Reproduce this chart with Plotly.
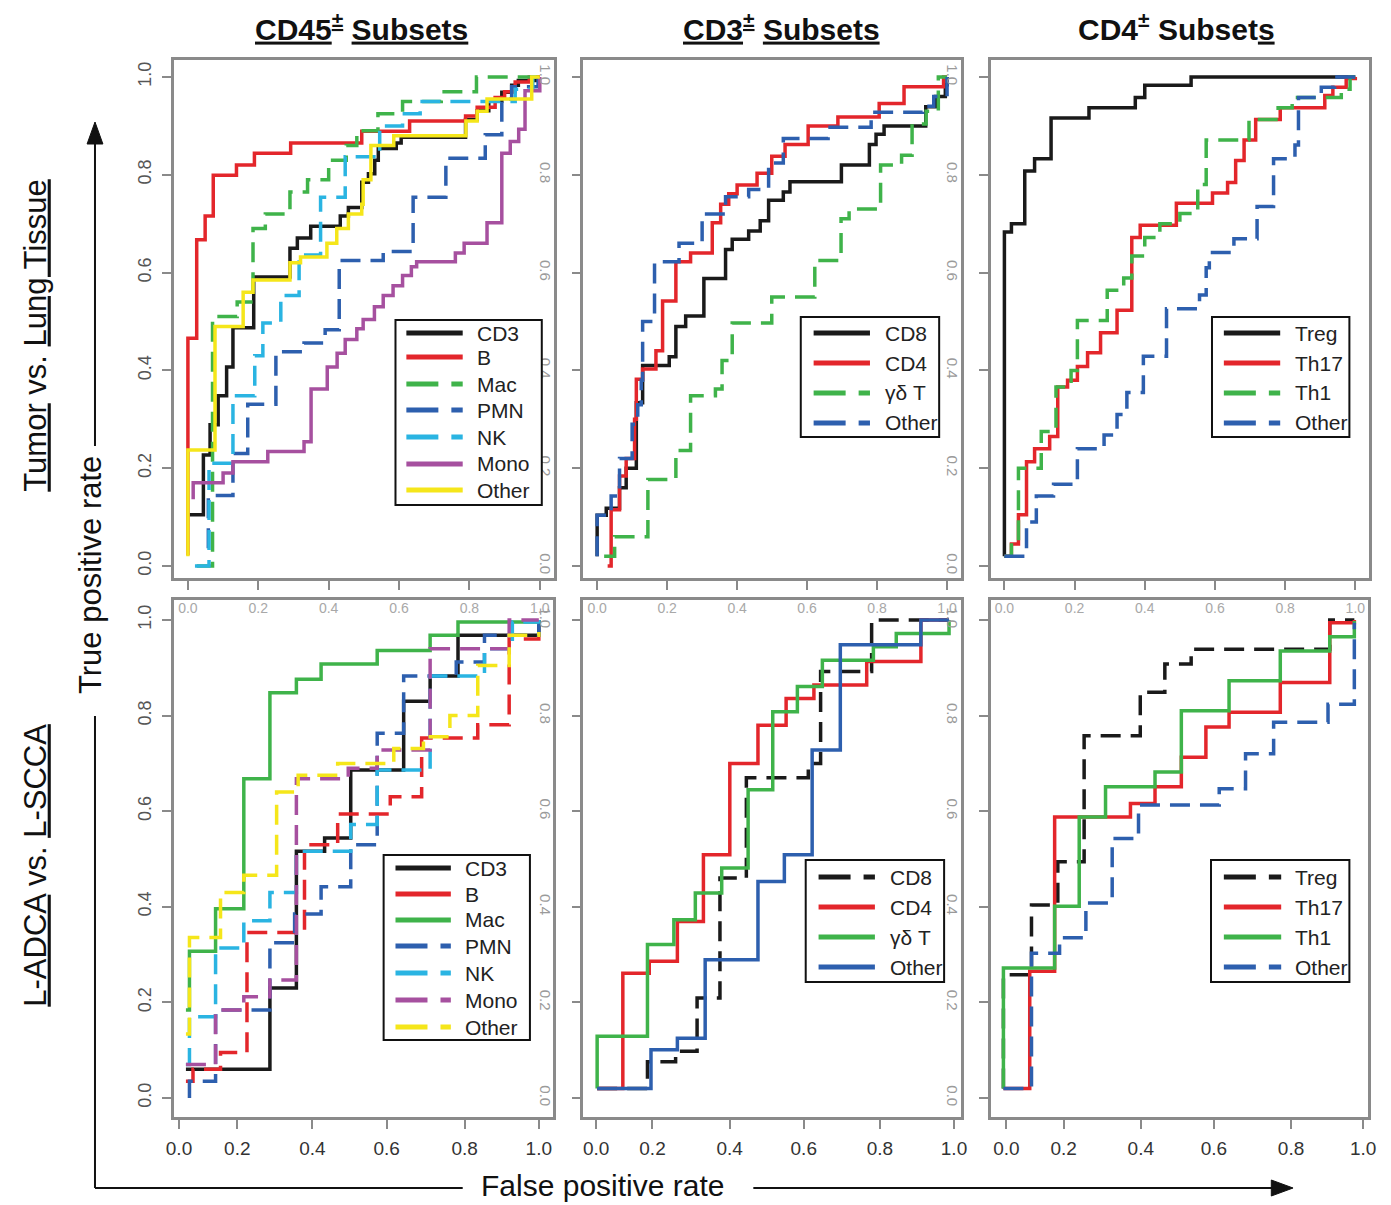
import plotly.graph_objects as go

W, H = 1391, 1205

# ---------------- data (FPR / TPR step points) ----------------
TICK_VALS = [0.0, 0.2, 0.4, 0.6, 0.8, 1.0]
TICK_TEXT = ["0.0", "0.2", "0.4", "0.6", "0.8", "1.0"]

column_titles = ["<u>CD45<sup>±</sup></u> <u>Subsets</u>",
                 "<u>CD3<sup>±</sup></u> <u>Subsets</u>",
                 "CD4<sup>±</sup> Subset<u>s</u>"]
row_titles = ["<u>Tumor</u> vs. <u>Lung Tissue</u>", "<u>L-ADCA</u> vs. <u>L-SCCA</u>"]

# Row 1, CD45+ subsets (tumor vs lung)
tl_cd3_fpr = [0.005, 0.044, 0.063, 0.086, 0.11, 0.128, 0.187, 0.29, 0.311, 0.349, 0.433, 0.456, 0.494, 0.513, 0.531, 0.541, 0.592, 0.606, 0.789, 0.822, 0.855, 0.892, 0.92, 0.939, 0.995, 1.0]
tl_cd3_tpr = [0.105, 0.227, 0.289, 0.348, 0.407, 0.487, 0.591, 0.65, 0.671, 0.695, 0.716, 0.733, 0.785, 0.802, 0.83, 0.854, 0.865, 0.877, 0.913, 0.931, 0.951, 0.969, 0.983, 0.993, 1.0, 1.0]
tl_b_fpr = [0.0, 0.0, 0.025, 0.049, 0.072, 0.138, 0.189, 0.292, 0.494, 0.63, 0.789, 0.822, 0.873, 0.9, 0.93, 0.97, 1.0]
tl_b_tpr = [0.022, 0.466, 0.667, 0.716, 0.799, 0.82, 0.844, 0.865, 0.889, 0.91, 0.92, 0.938, 0.958, 0.97, 0.99, 1.0, 1.0]
tl_mac_fpr = [0.025, 0.07, 0.14, 0.185, 0.22, 0.29, 0.34, 0.40, 0.45, 0.48, 0.54, 0.61, 0.72, 0.82, 1.0]
tl_mac_tpr = [0.0, 0.51, 0.54, 0.69, 0.72, 0.765, 0.79, 0.83, 0.86, 0.89, 0.925, 0.95, 0.97, 1.0, 1.0]
tl_pmn_fpr = [0.053, 0.058, 0.128, 0.17, 0.25, 0.33, 0.39, 0.43, 0.555, 0.64, 0.733, 0.845, 0.892, 0.92, 0.995, 1.0]
tl_pmn_tpr = [0.04, 0.144, 0.23, 0.331, 0.438, 0.456, 0.483, 0.625, 0.643, 0.754, 0.834, 0.882, 0.955, 0.98, 1.0, 1.0]
tl_nk_fpr = [0.02, 0.06, 0.128, 0.19, 0.213, 0.264, 0.316, 0.377, 0.447, 0.545, 0.61, 0.66, 0.93, 0.98, 1.0]
tl_nk_tpr = [0.0, 0.21, 0.348, 0.43, 0.497, 0.553, 0.636, 0.754, 0.837, 0.9, 0.925, 0.95, 0.975, 1.0, 1.0]
tl_mono_fpr = [0.01, 0.015, 0.1, 0.128, 0.227, 0.33, 0.35, 0.396, 0.424, 0.447, 0.48, 0.498, 0.53, 0.555, 0.583, 0.61, 0.635, 0.65, 0.76, 0.785, 0.85, 0.892, 0.916, 0.94, 0.958, 1.0]
tl_mono_tpr = [0.14, 0.17, 0.19, 0.213, 0.234, 0.254, 0.362, 0.407, 0.435, 0.463, 0.485, 0.504, 0.53, 0.553, 0.573, 0.594, 0.612, 0.622, 0.64, 0.66, 0.702, 0.844, 0.868, 0.893, 0.972, 1.0]
tl_other_fpr = [0.0, 0.0, 0.077, 0.157, 0.185, 0.29, 0.32, 0.395, 0.423, 0.456, 0.494, 0.498, 0.52, 0.585, 0.79, 0.822, 0.85, 0.977, 1.0]
tl_other_tpr = [0.02, 0.237, 0.49, 0.56, 0.585, 0.62, 0.632, 0.66, 0.69, 0.72, 0.74, 0.79, 0.86, 0.88, 0.91, 0.93, 0.955, 1.0, 1.0]

# Row 1, CD3+ subsets
tm_cd8_fpr = [0.0, 0.0, 0.026, 0.064, 0.083, 0.112, 0.13, 0.206, 0.225, 0.253, 0.305, 0.367, 0.386, 0.433, 0.466, 0.49, 0.532, 0.551, 0.698, 0.778, 0.797, 0.82, 0.939, 0.967, 0.995, 1.0]
tm_cd8_tpr = [0.02, 0.104, 0.118, 0.16, 0.2, 0.334, 0.41, 0.428, 0.49, 0.511, 0.588, 0.647, 0.668, 0.685, 0.706, 0.748, 0.765, 0.786, 0.82, 0.862, 0.883, 0.9, 0.939, 0.96, 0.984, 1.0]
tm_cd4_fpr = [0.03, 0.04, 0.064, 0.083, 0.107, 0.112, 0.13, 0.168, 0.187, 0.225, 0.267, 0.329, 0.353, 0.376, 0.4, 0.457, 0.499, 0.537, 0.603, 0.688, 0.806, 0.877, 0.99, 1.0]
tm_cd4_tpr = [0.0, 0.115, 0.184, 0.22, 0.3, 0.382, 0.403, 0.44, 0.542, 0.622, 0.64, 0.702, 0.74, 0.761, 0.779, 0.803, 0.838, 0.862, 0.9, 0.918, 0.946, 0.98, 1.0, 1.0]
tm_gd_fpr = [0.02, 0.05, 0.145, 0.225, 0.267, 0.338, 0.357, 0.386, 0.499, 0.622, 0.697, 0.72, 0.81, 0.87, 0.9, 0.94, 0.975, 1.0]
tm_gd_tpr = [0.02, 0.06, 0.177, 0.236, 0.348, 0.362, 0.42, 0.497, 0.55, 0.625, 0.71, 0.73, 0.82, 0.84, 0.904, 0.93, 1.0, 1.0]
tm_other_fpr = [0.0, 0.0, 0.04, 0.064, 0.1, 0.116, 0.126, 0.13, 0.164, 0.234, 0.3, 0.367, 0.433, 0.49, 0.532, 0.66, 0.783, 0.93, 0.962, 1.0]
tm_other_tpr = [0.02, 0.104, 0.143, 0.22, 0.29, 0.33, 0.38, 0.5, 0.622, 0.66, 0.72, 0.755, 0.77, 0.824, 0.874, 0.897, 0.928, 0.94, 0.96, 1.0]

# Row 1, CD4+ subsets
tr_treg_fpr = [0.0, 0.0, 0.02, 0.058, 0.086, 0.133, 0.241, 0.373, 0.40, 0.532, 1.0]
tr_treg_tpr = [0.02, 0.683, 0.70, 0.808, 0.833, 0.916, 0.937, 0.958, 0.983, 1.0, 1.0]
tr_th17_fpr = [0.0, 0.02, 0.04, 0.063, 0.086, 0.129, 0.152, 0.18, 0.208, 0.237, 0.274, 0.321, 0.363, 0.387, 0.49, 0.593, 0.636, 0.659, 0.683, 0.716, 0.786, 0.913, 0.936, 0.974, 1.0]
tr_th17_tpr = [0.02, 0.045, 0.105, 0.213, 0.24, 0.265, 0.366, 0.38, 0.408, 0.436, 0.477, 0.523, 0.672, 0.697, 0.742, 0.763, 0.784, 0.829, 0.871, 0.913, 0.937, 0.962, 0.979, 0.997, 1.0]
tr_th1_fpr = [0.0, 0.02, 0.04, 0.105, 0.147, 0.19, 0.208, 0.293, 0.34, 0.363, 0.4, 0.443, 0.5, 0.551, 0.575, 0.697, 0.78, 0.82, 0.96, 0.985, 1.0]
tr_th1_tpr = [0.02, 0.05, 0.2, 0.275, 0.366, 0.4, 0.502, 0.564, 0.589, 0.634, 0.672, 0.70, 0.721, 0.78, 0.871, 0.913, 0.937, 0.958, 0.975, 1.0, 1.0]
tr_other_fpr = [0.0, 0.063, 0.091, 0.14, 0.208, 0.284, 0.321, 0.349, 0.396, 0.462, 0.556, 0.575, 0.584, 0.654, 0.72, 0.767, 0.828, 0.838, 0.903, 0.941, 1.0]
tr_other_tpr = [0.02, 0.09, 0.143, 0.167, 0.24, 0.268, 0.31, 0.355, 0.429, 0.526, 0.554, 0.61, 0.641, 0.669, 0.735, 0.833, 0.861, 0.958, 0.979, 1.0, 1.0]

# Row 2, CD45+ subsets (L-ADCA vs L-SCCA)
bl_cd3_fpr = [0.0, 0.238, 0.313, 0.393, 0.467, 0.617, 0.692, 0.771, 1.0]
bl_cd3_tpr = [0.06, 0.23, 0.516, 0.544, 0.686, 0.83, 0.883, 0.968, 0.99]
bl_b_fpr = [0.0, 0.02, 0.098, 0.173, 0.336, 0.43, 0.579, 0.668, 0.827, 0.916, 1.0]
bl_b_tpr = [0.035, 0.06, 0.095, 0.346, 0.53, 0.594, 0.63, 0.753, 0.781, 0.96, 1.0]
bl_mac_fpr = [0.0, 0.01, 0.084, 0.164, 0.238, 0.313, 0.383, 0.542, 0.692, 0.771, 1.0]
bl_mac_tpr = [0.184, 0.307, 0.396, 0.668, 0.848, 0.876, 0.908, 0.936, 0.968, 0.996, 1.0]
bl_pmn_fpr = [0.01, 0.01, 0.084, 0.238, 0.308, 0.383, 0.467, 0.542, 0.617, 0.766, 0.846, 1.0]
bl_pmn_tpr = [0.0, 0.035, 0.184, 0.325, 0.385, 0.442, 0.53, 0.763, 0.883, 0.912, 0.968, 1.0]
bl_nk_fpr = [0.0, 0.01, 0.084, 0.164, 0.238, 0.313, 0.467, 0.542, 0.692, 0.846, 0.925, 1.0]
bl_nk_tpr = [0.07, 0.17, 0.314, 0.371, 0.43, 0.516, 0.572, 0.686, 0.883, 0.94, 0.996, 1.0]
bl_mono_fpr = [0.0, 0.084, 0.164, 0.238, 0.313, 0.46, 0.542, 0.692, 0.916, 1.0]
bl_mono_tpr = [0.07, 0.184, 0.212, 0.247, 0.668, 0.69, 0.728, 0.94, 1.0, 1.0]
bl_other_fpr = [0.0, 0.01, 0.098, 0.164, 0.257, 0.318, 0.43, 0.589, 0.673, 0.748, 0.827, 0.916, 1.0]
bl_other_tpr = [0.134, 0.336, 0.43, 0.466, 0.64, 0.675, 0.7, 0.731, 0.756, 0.8, 0.905, 0.968, 0.975]

# Row 2, CD3+ subsets
bm_cd8_fpr = [0.0, 0.143, 0.223, 0.284, 0.349, 0.424, 0.6, 0.635, 0.78, 1.0]
bm_cd8_tpr = [0.02, 0.076, 0.098, 0.209, 0.46, 0.67, 0.70, 0.892, 1.0, 1.0]
bm_cd4_fpr = [0.0, 0.073, 0.148, 0.228, 0.302, 0.377, 0.457, 0.537, 0.616, 0.766, 0.92, 1.0]
bm_cd4_tpr = [0.02, 0.261, 0.286, 0.369, 0.509, 0.70, 0.78, 0.836, 0.864, 0.913, 1.0, 1.0]
bm_gd_fpr = [0.0, 0.0, 0.143, 0.218, 0.279, 0.354, 0.429, 0.499, 0.569, 0.64, 0.785, 0.85, 1.0]
bm_gd_tpr = [0.02, 0.129, 0.321, 0.373, 0.429, 0.481, 0.645, 0.808, 0.861, 0.916, 0.944, 0.972, 1.0]
bm_other_fpr = [0.0, 0.153, 0.228, 0.307, 0.457, 0.532, 0.611, 0.691, 0.92, 1.0]
bm_other_tpr = [0.02, 0.101, 0.125, 0.289, 0.453, 0.509, 0.728, 0.948, 1.0, 1.0]

# Row 2, CD4+ subsets
br_treg_fpr = [0.0, 0.0, 0.08, 0.155, 0.23, 0.39, 0.46, 0.535, 0.93, 1.0]
br_treg_tpr = [0.02, 0.258, 0.404, 0.494, 0.758, 0.849, 0.908, 0.939, 1.0, 1.0]
br_th17_fpr = [0.0, 0.075, 0.146, 0.362, 0.432, 0.507, 0.577, 0.643, 0.789, 0.93, 1.0]
br_th17_tpr = [0.02, 0.265, 0.588, 0.616, 0.651, 0.713, 0.776, 0.807, 0.869, 0.994, 1.0]
br_th1_fpr = [0.0, 0.0, 0.146, 0.216, 0.291, 0.432, 0.507, 0.643, 0.789, 0.93, 1.0]
br_th1_tpr = [0.02, 0.272, 0.401, 0.588, 0.651, 0.682, 0.81, 0.873, 0.935, 0.965, 0.998]
br_other_fpr = [0.0, 0.08, 0.16, 0.235, 0.31, 0.385, 0.615, 0.69, 0.77, 0.925, 1.0]
br_other_tpr = [0.02, 0.303, 0.335, 0.408, 0.543, 0.613, 0.647, 0.72, 0.786, 0.824, 0.994]

# ---------------- styles ----------------
BLACK, RED, GREEN, BLUE = "#1a1a1a", "#e3262b", "#3fb34a", "#2d5fae"
CYAN, PURPLE, YELLOW = "#2ab4e2", "#a6509f", "#f5e61a"
CURVE_DASH = "20px,10px"
LEG_DASH = "32px,13px"
FONT = "Liberation Sans, Arial, Helvetica, sans-serif"

# panel: (frame L,R,T,B), (px of x=0, x=1), (px of y=0, y=1)
panels = [
    dict(frame=(168, 552, 60, 578), xpx=(182, 538), ypx=(566, 77)),
    dict(frame=(582, 964, 60, 578), xpx=(596, 950), ypx=(566, 77)),
    dict(frame=(994, 1377, 60, 578), xpx=(1008, 1363), ypx=(566, 77)),
    dict(frame=(168, 551, 600, 1117), xpx=(180, 537), ypx=(1098, 620)),
    dict(frame=(582, 964, 600, 1117), xpx=(596, 952), ypx=(1098, 620)),
    dict(frame=(994, 1376, 600, 1117), xpx=(1007, 1362), ypx=(1098, 620)),
]
bottom_label_px = [[173, 232, 308, 383, 462, 537],
                   [595, 652, 730, 805, 882, 957],
                   [1010, 1068, 1146, 1220, 1298, 1371]]

series = [
    # panel index, label, fpr, tpr, color, curve dash, legend dash
    [(0, "CD3", tl_cd3_fpr, tl_cd3_tpr, BLACK, "solid", "solid"),
     (0, "B", tl_b_fpr, tl_b_tpr, RED, "solid", "solid"),
     (0, "Mac", tl_mac_fpr, tl_mac_tpr, GREEN, CURVE_DASH, LEG_DASH),
     (0, "PMN", tl_pmn_fpr, tl_pmn_tpr, BLUE, CURVE_DASH, LEG_DASH),
     (0, "NK", tl_nk_fpr, tl_nk_tpr, CYAN, CURVE_DASH, LEG_DASH),
     (0, "Mono", tl_mono_fpr, tl_mono_tpr, PURPLE, "solid", "solid"),
     (0, "Other", tl_other_fpr, tl_other_tpr, YELLOW, "solid", "solid")],
    [(1, "CD8", tm_cd8_fpr, tm_cd8_tpr, BLACK, "solid", "solid"),
     (1, "CD4", tm_cd4_fpr, tm_cd4_tpr, RED, "solid", "solid"),
     (1, "γδ T", tm_gd_fpr, tm_gd_tpr, GREEN, CURVE_DASH, LEG_DASH),
     (1, "Other", tm_other_fpr, tm_other_tpr, BLUE, CURVE_DASH, LEG_DASH)],
    [(2, "Treg", tr_treg_fpr, tr_treg_tpr, BLACK, "solid", "solid"),
     (2, "Th17", tr_th17_fpr, tr_th17_tpr, RED, "solid", "solid"),
     (2, "Th1", tr_th1_fpr, tr_th1_tpr, GREEN, CURVE_DASH, LEG_DASH),
     (2, "Other", tr_other_fpr, tr_other_tpr, BLUE, CURVE_DASH, LEG_DASH)],
    [(3, "CD3", bl_cd3_fpr, bl_cd3_tpr, BLACK, "solid", "solid"),
     (3, "B", bl_b_fpr, bl_b_tpr, RED, CURVE_DASH, "solid"),
     (3, "Mac", bl_mac_fpr, bl_mac_tpr, GREEN, "solid", "solid"),
     (3, "PMN", bl_pmn_fpr, bl_pmn_tpr, BLUE, CURVE_DASH, LEG_DASH),
     (3, "NK", bl_nk_fpr, bl_nk_tpr, CYAN, CURVE_DASH, LEG_DASH),
     (3, "Mono", bl_mono_fpr, bl_mono_tpr, PURPLE, CURVE_DASH, LEG_DASH),
     (3, "Other", bl_other_fpr, bl_other_tpr, YELLOW, CURVE_DASH, LEG_DASH)],
    [(4, "CD8", bm_cd8_fpr, bm_cd8_tpr, BLACK, CURVE_DASH, LEG_DASH),
     (4, "CD4", bm_cd4_fpr, bm_cd4_tpr, RED, "solid", "solid"),
     (4, "γδ T", bm_gd_fpr, bm_gd_tpr, GREEN, "solid", "solid"),
     (4, "Other", bm_other_fpr, bm_other_tpr, BLUE, "solid", "solid")],
    [(5, "Treg", br_treg_fpr, br_treg_tpr, BLACK, CURVE_DASH, LEG_DASH),
     (5, "Th17", br_th17_fpr, br_th17_tpr, RED, "solid", "solid"),
     (5, "Th1", br_th1_fpr, br_th1_tpr, GREEN, "solid", "solid"),
     (5, "Other", br_other_fpr, br_other_tpr, BLUE, CURVE_DASH, LEG_DASH)],
]

# legend boxes: (L, T, R, B), row centres, sample line x-range, text x
legend_geo = [
    dict(box=(392, 320, 540, 505), rows=[333, 357, 384, 410, 437, 464, 490], line=(403, 460), text=472),
    dict(box=(802, 317, 942, 437), rows=[333, 363, 393, 423], line=(815, 872), text=885),
    dict(box=(1218, 317, 1357, 437), rows=[333, 363, 393, 423], line=(1230, 1287), text=1300),
    dict(box=(380, 855, 528, 1040), rows=[868, 894, 920, 946, 973, 1000, 1027], line=(392, 448), text=460),
    dict(box=(807, 860, 947, 982), rows=[877, 907, 937, 967], line=(820, 877), text=890),
    dict(box=(1217, 860, 1357, 982), rows=[877, 907, 937, 967], line=(1230, 1288), text=1300),
]


def fx(p):
    return p / W


def fy(p):
    return 1 - p / H


fig = go.Figure()
shapes, annotations = [], []

for group in series:
    for (pi, label, xs, ys, color, dash, _ld) in group:
        suffix = "" if pi == 0 else str(pi + 1)
        fig.add_trace(go.Scatter(
            x=xs, y=ys, mode="lines", name=label, showlegend=False,
            line=dict(color=color, width=3.5, dash=dash, shape="hv"),
            xaxis="x" + suffix, yaxis="y" + suffix, hoverinfo="skip"))

AXCOL = "#8a8a8a"
layout_axes = {}
for pi, p in enumerate(panels):
    L, R, T, B = p["frame"]
    x0, x1 = p["xpx"]
    y0, y1 = p["ypx"]
    col, row = pi % 3, pi // 3
    suffix = "" if pi == 0 else str(pi + 1)
    common = dict(showgrid=False, zeroline=False, showline=True, mirror=True,
                  linecolor=AXCOL, linewidth=2.5, ticks="outside", ticklen=9,
                  tickwidth=2, tickcolor=AXCOL, fixedrange=True)
    if row == 0:
        xt = dict(tickvals=TICK_VALS, ticktext=TICK_TEXT,
                  tickfont=dict(size=14, color="#a8a8a8", family=FONT),
                  ticklabelstandoff=6)
    else:
        tv = [(q - x0) / (x1 - x0) for q in bottom_label_px[col]]
        xt = dict(tickvals=tv, ticktext=TICK_TEXT,
                  tickfont=dict(size=19, color="#333333", family=FONT),
                  ticklabelstandoff=3)
    layout_axes["xaxis" + suffix] = dict(
        domain=[L / W, R / W],
        range=[(L - x0) / (x1 - x0), (R - x0) / (x1 - x0)],
        anchor="y" + suffix, **xt, **common)
    if col == 0:
        yt = dict(tickangle=-90, tickfont=dict(size=18, color="#555555", family=FONT),
                  ticklabelstandoff=4)
    else:
        yt = dict(tickangle=90, tickfont=dict(size=15, color="#9a9a9a", family=FONT),
                  ticklabelstandoff=14)
    layout_axes["yaxis" + suffix] = dict(
        domain=[1 - B / H, 1 - T / H],
        range=[(y0 - B) / (y0 - y1), (y0 - T) / (y0 - y1)],
        anchor="x" + suffix, tickvals=TICK_VALS, ticktext=TICK_TEXT, **yt, **common)

# legends
for group, g in zip(series, legend_geo):
    L, T, R, B = g["box"]
    shapes.append(dict(type="rect", xref="paper", yref="paper", x0=fx(L), x1=fx(R),
                       y0=fy(B), y1=fy(T), fillcolor="white",
                       line=dict(color="#111111", width=2), layer="above"))
    for (pi, label, xs, ys, color, dash, ldash), ry in zip(group, g["rows"]):
        shapes.append(dict(type="line", xref="paper", yref="paper",
                           x0=fx(g["line"][0]), x1=fx(g["line"][1]), y0=fy(ry), y1=fy(ry),
                           line=dict(color=color, width=5, dash=ldash), layer="above"))
        annotations.append(dict(text=label, x=fx(g["text"]), y=fy(ry), xref="paper", yref="paper",
                                xanchor="left", yanchor="middle", showarrow=False,
                                font=dict(size=21, color="#222222", family=FONT)))

# column titles
for t, cx in zip(column_titles, [358, 782, 1182]):
    annotations.append(dict(text="<b>" + t + "</b>", x=fx(cx), y=fy(27), xref="paper", yref="paper",
                            xanchor="center", yanchor="middle", showarrow=False,
                            font=dict(size=30, color="#111111", family=FONT)))

# row titles
for t, cy in zip(row_titles, [336, 865]):
    annotations.append(dict(text=t, x=fx(27), y=fy(cy), xref="paper", yref="paper",
                            xanchor="center", yanchor="middle", showarrow=False, textangle=-90,
                            font=dict(size=31, color="#111111", family=FONT)))

annotations.append(dict(text="True positive rate", x=fx(83), y=fy(575), xref="paper", yref="paper",
                        xanchor="center", yanchor="middle", showarrow=False, textangle=-90,
                        font=dict(size=31, color="#111111", family=FONT)))
annotations.append(dict(text="False positive rate", x=fx(601), y=fy(1185), xref="paper", yref="paper",
                        xanchor="center", yanchor="middle", showarrow=False,
                        font=dict(size=30, color="#111111", family=FONT)))

# axis arrows
AX = 88
AY = 1188
ln = dict(color="#111111", width=2)
for (xa, ya, xb, yb) in [(AX, 140, AX, 446), (AX, 716, AX, AY), (AX, AY, 460, AY), (754, AY, 1284, AY)]:
    shapes.append(dict(type="line", xref="paper", yref="paper", x0=fx(xa), y0=fy(ya),
                       x1=fx(xb), y1=fy(yb), line=ln))
shapes.append(dict(type="path", xref="paper", yref="paper",
                   path=f"M {fx(AX)},{fy(122)} L {fx(AX-8)},{fy(144)} L {fx(AX+8)},{fy(144)} Z",
                   fillcolor="#111111", line=dict(color="#111111", width=1)))
shapes.append(dict(type="path", xref="paper", yref="paper",
                   path=f"M {fx(1300)},{fy(AY)} L {fx(1278)},{fy(AY-8)} L {fx(1278)},{fy(AY+8)} Z",
                   fillcolor="#111111", line=dict(color="#111111", width=1)))

fig.update_layout(
    width=W, height=H, margin=dict(l=0, r=0, t=0, b=0),
    paper_bgcolor="white", plot_bgcolor="white", showlegend=False,
    shapes=shapes, annotations=annotations, font=dict(family=FONT),
    **layout_axes)

fig.write_html("out.html")
